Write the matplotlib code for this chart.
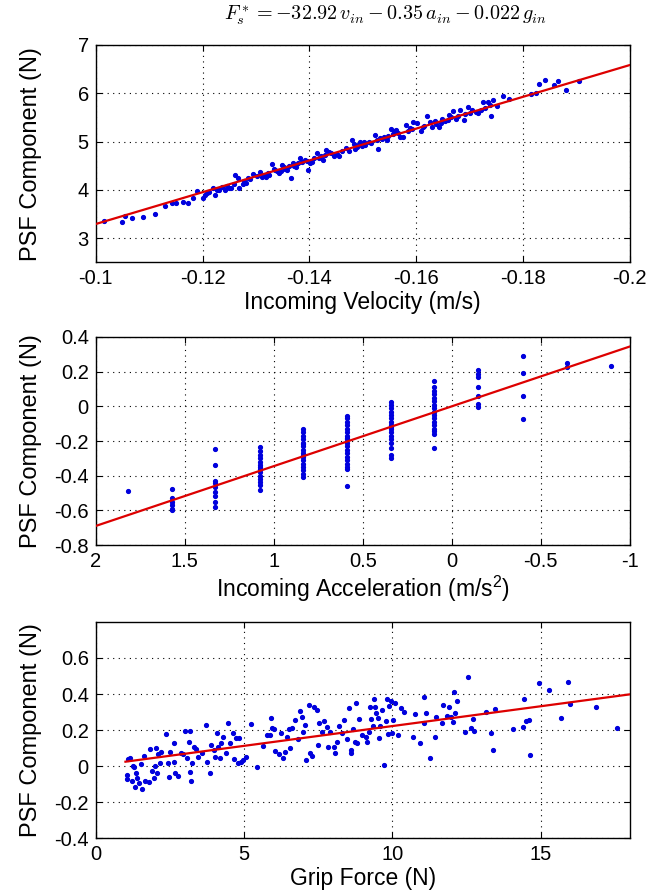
import numpy as np
import matplotlib
matplotlib.use("Agg")
import matplotlib.pyplot as plt

plt.rcParams['font.family'] = ['Liberation Sans', 'DejaVu Sans']
plt.rcParams['mathtext.fontset'] = 'cm'
plt.rcParams['axes.unicode_minus'] = False

# --- panel 1: incoming velocity vs PSF component ---
vel = [-0.1015, -0.105, -0.1055, -0.1067, -0.1089, -0.111, -0.113, -0.1142, -0.115, -0.1163,
       -0.1173, -0.1182, -0.1189, -0.12, -0.1205, -0.1212, -0.1219, -0.1223, -0.123, -0.1237,
       -0.1242, -0.1249, -0.1254, -0.126, -0.1267, -0.1269, -0.1275, -0.1282, -0.1285, -0.1295,
       -0.1302, -0.1307, -0.1312, -0.1319, -0.1325, -0.133, -0.1334, -0.1339, -0.1343, -0.1349,
       -0.1354, -0.1359, -0.1365, -0.1369, -0.1375, -0.1382, -0.1387, -0.1392, -0.1397, -0.1402,
       -0.1409, -0.1415, -0.1421, -0.1426, -0.1432, -0.1437, -0.1447, -0.1455, -0.1462, -0.1474,
       -0.1479, -0.1483, -0.1489, -0.1495, -0.1499, -0.1505, -0.1515, -0.1522, -0.1529, -0.1532,
       -0.1539, -0.1545, -0.1552, -0.1559, -0.1563, -0.1569, -0.1575, -0.1581, -0.1589, -0.1595,
       -0.1602, -0.1609, -0.1615, -0.1621, -0.1629, -0.1635, -0.1642, -0.1649, -0.1654, -0.1662,
       -0.1669, -0.1675, -0.1682, -0.1689, -0.1697, -0.1705, -0.1715, -0.1722, -0.1725, -0.1734,
       -0.1741, -0.1743, -0.1752, -0.1762, -0.1774, -0.1815, -0.1825, -0.183, -0.1841, -0.1859,
       -0.1865, -0.188, -0.1905,
       -0.1245, -0.1278, -0.1316, -0.1336, -0.1352, -0.1372, -0.1395, -0.1418, -0.1441, -0.1468,
       -0.1491, -0.1512, -0.1536, -0.1556, -0.1585, -0.1612, -0.1638, -0.1659, -0.1679, -0.1701,
       -0.1712, -0.1729,
       -0.1208, -0.1227, -0.1258, -0.1289, -0.1322, -0.1346, -0.1362, -0.1379, -0.1405, -0.1429,
       -0.1452, -0.1486, -0.1502, -0.1526, -0.1548, -0.1566, -0.1592, -0.1626, -0.1646, -0.1666,
       -0.1692, -0.1738]
psf_v = [3.36, 3.33, 3.45, 3.42, 3.43, 3.49, 3.67, 3.73, 3.73, 3.75,
         3.72, 3.84, 3.97, 3.84, 3.89, 3.96, 4.03, 3.90, 3.99, 4.06,
         3.99, 4.03, 4.03, 4.31, 4.24, 4.03, 4.13, 4.15, 4.25, 4.32,
         4.29, 4.36, 4.26, 4.26, 4.31, 4.53, 4.44, 4.38, 4.34, 4.51,
         4.44, 4.41, 4.24, 4.55, 4.48, 4.65, 4.58, 4.62, 4.41, 4.55,
         4.65, 4.76, 4.71, 4.62, 4.83, 4.79, 4.69, 4.69, 4.81, 4.81,
         5.03, 4.94, 4.88, 5.00, 4.90, 4.93, 4.97, 5.14, 4.85, 5.07,
         5.10, 5.03, 5.26, 5.21, 5.24, 5.10, 5.10, 5.35, 5.29, 5.40,
         5.38, 5.21, 5.33, 5.52, 5.31, 5.43, 5.31, 5.47, 5.42, 5.54,
         5.63, 5.47, 5.66, 5.45, 5.71, 5.66, 5.59, 5.66, 5.82, 5.82,
         5.52, 5.87, 5.73, 5.95, 5.89, 5.99, 6.01, 6.19, 6.28, 6.18,
         6.26, 6.06, 6.26,
         4.07, 4.18, 4.31, 4.42, 4.47, 4.50, 4.60, 4.66, 4.77, 4.86,
         4.92, 5.00, 5.05, 5.15, 5.22, 5.30, 5.37, 5.44, 5.52, 5.59,
         5.62, 5.70,
         3.94, 4.00, 4.12, 4.22, 4.34, 4.40, 4.49, 4.56, 4.58, 4.73,
         4.75, 4.84, 4.98, 5.03, 5.12, 5.18, 5.25, 5.40, 5.39, 5.50,
         5.58, 5.76]

# --- panel 2: incoming acceleration vs PSF component ---
acc = ([1.82] + [1.574] * 6 + [1.328] * 9 + [1.08] * 14 + [0.836] * 17 + [0.588] * 19
       + [0.342] * 17 + [0.098] * 17 + [-0.15] * 7 + [-0.40] * 4 + [-0.646] * 2 + [-0.892])
psf_a = ([-0.49]
         + [-0.477, -0.53, -0.55, -0.57, -0.59, -0.60]
         + [-0.244, -0.34, -0.43, -0.445, -0.464, -0.496, -0.52, -0.55, -0.58]
         + [-0.237, -0.26, -0.28, -0.30, -0.32, -0.34, -0.35, -0.36, -0.38, -0.40, -0.42,
            -0.435, -0.454, -0.48]
         + [-0.13, -0.15, -0.17, -0.19, -0.21, -0.22, -0.23, -0.25, -0.27, -0.28, -0.29,
            -0.31, -0.33, -0.35, -0.37, -0.39, -0.41]
         + [-0.054, -0.07, -0.09, -0.11, -0.13, -0.15, -0.17, -0.18, -0.19, -0.21, -0.23,
            -0.25, -0.27, -0.29, -0.31, -0.33, -0.35, -0.36, -0.46]
         + [0.027, 0.01, -0.01, -0.03, -0.05, -0.07, -0.09, -0.11, -0.12, -0.13, -0.15,
            -0.17, -0.19, -0.21, -0.24, -0.28, -0.30]
         + [0.145, 0.11, 0.09, 0.07, 0.05, 0.03, 0.01, -0.01, -0.03, -0.05, -0.07, -0.09,
            -0.11, -0.13, -0.14, -0.16, -0.24]
         + [0.208, 0.185, 0.17, 0.109, 0.061, 0.013, -0.002]
         + [0.29, 0.195, 0.061, -0.073]
         + [0.248, 0.227]
         + [0.233])

# --- panel 3: grip force vs PSF component ---
grip = [1.06, 1.06, 1.09, 1.15, 1.21, 1.24, 1.30, 1.33, 1.36, 1.39, 1.45, 1.51, 1.57, 1.62, 1.66,
        1.81, 1.84, 1.90, 1.96, 1.99, 2.02, 2.08, 2.11, 2.17, 2.20, 2.38, 2.44, 2.46, 2.50, 2.62,
        2.65, 2.68, 2.77, 2.86, 2.94, 3.01, 3.06, 3.13, 3.16, 3.18, 3.22, 3.25, 3.30, 3.37, 3.46,
        3.58, 3.70, 3.76, 3.85, 3.88, 3.97, 4.02, 4.09, 4.12, 4.18, 4.21, 4.30, 4.38, 4.45, 4.54,
        4.62, 4.66, 4.72, 4.78, 4.84, 4.90, 4.96, 5.08, 5.22, 5.44, 5.65, 5.76, 5.86, 5.92, 5.94,
        6.01, 6.04, 6.16, 6.25, 6.30, 6.37, 6.46, 6.52, 6.54, 6.61, 6.73, 6.82, 6.88, 6.94, 6.97,
        7.06, 7.09, 7.18, 7.21, 7.30, 7.36, 7.45, 7.48, 7.54, 7.62, 7.69, 7.78, 7.82, 7.90, 8.02,
        8.08, 8.14, 8.20, 8.30, 8.38, 8.46, 8.54, 8.59, 8.62, 8.68, 8.74, 8.78, 8.82, 8.86, 8.98,
        9.10, 9.14, 9.20, 9.24, 9.28, 9.34, 9.37, 9.40, 9.46, 9.50, 9.55, 9.58, 9.64, 9.72, 9.78,
        9.82, 9.86, 9.88, 9.94, 9.98, 10.02, 10.08, 10.19, 10.30, 10.38, 10.68, 10.76, 10.94,
        11.06, 11.08, 11.14, 11.28, 11.42, 11.46, 11.66, 11.70, 11.84, 11.90, 11.98, 12.04, 12.06,
        12.10, 12.16, 12.44, 12.55, 12.66, 12.70, 12.76, 13.16, 13.32, 13.38, 13.46, 14.06, 14.41,
        14.42, 14.50, 14.62, 14.65, 14.95, 15.28, 15.68, 15.93, 15.98, 16.87, 17.56]
psf_g = [-0.05, -0.072, 0.039, 0.046, -0.081, 0.0, -0.004, -0.115, -0.037, -0.069, -0.093, 0.011,
         -0.128, 0.056, -0.083, -0.089, 0.093, -0.028, -0.069, 0.0, 0.102, -0.041, 0.067, 0.019,
         0.08, 0.176, 0.015, -0.059, 0.08, 0.024, 0.126, -0.037, -0.056, 0.074, 0.067, 0.196,
         0.043, 0.135, -0.031, 0.196, -0.083, 0.019, 0.107, 0.093, 0.048, 0.07, 0.228, 0.024,
         -0.041, 0.117, 0.089, 0.052, 0.181, 0.107, 0.043, 0.13, 0.163, 0.07, 0.237, 0.126,
         0.181, 0.037, 0.154, 0.015, 0.154, 0.024, 0.033, 0.048, 0.231, -0.004, 0.111, 0.172,
         0.172, 0.265, 0.209, 0.204, 0.085, 0.067, 0.181, 0.043, 0.08, 0.163, 0.204, 0.098,
         0.209, 0.256, 0.148, 0.306, 0.274, 0.191, 0.228, 0.033, 0.339, 0.074, 0.057, 0.326,
         0.311, 0.117, 0.241, 0.191, 0.25, 0.219, 0.104, 0.191, 0.104, 0.074, 0.135, 0.222,
         0.181, 0.256, 0.148, 0.324, 0.089, 0.07, 0.204, 0.135, 0.352, 0.126, 0.259, 0.172,
         0.163, 0.135, 0.191, 0.33, 0.259, 0.222, 0.37, 0.33, 0.296, 0.265, 0.154, 0.222,
         0.311, 0.006, 0.252, 0.37, 0.178, 0.333, 0.363, 0.185, 0.256, 0.352, 0.172, 0.32,
         0.302, 0.159, 0.289, 0.126, 0.381, 0.237, 0.296, 0.046, 0.159, 0.27, 0.237, 0.339,
         0.278, 0.33, 0.274, 0.246, 0.409, 0.293, 0.363, 0.187, 0.496, 0.209, 0.261, 0.196,
         0.302, 0.185, 0.089, 0.315, 0.206, 0.215, 0.37, 0.25, 0.256, 0.061, 0.463, 0.422,
         0.269, 0.465, 0.343, 0.326, 0.209]

# linear fit lines (slope, intercept) and x spans
fit_v = [-32.92, 0.0]
fit_a = [-0.345, 0.0]
fit_g = [0.022, 0.002]
span_v = [-0.1, -0.2]
span_a = [2, -1]
span_g = [1.0, 18]

fig = plt.figure(figsize=(6.56, 8.92), dpi=100)
ax1 = fig.add_axes([0.146, 0.706, 0.814, 0.2436])
ax2 = fig.add_axes([0.146, 0.389, 0.814, 0.2332])
ax3 = fig.add_axes([0.146, 0.0605, 0.814, 0.2422])

panels = [
    (ax1, vel, psf_v, fit_v, span_v, 'Incoming Velocity (m/s)',
     (-0.1, -0.2), (2.5, 7), [-0.1, -0.12, -0.14, -0.16, -0.18, -0.2], [3, 4, 5, 6, 7]),
    (ax2, acc, psf_a, fit_a, span_a, 'Incoming Acceleration (m/s$\\mathregular{^2}$)',
     (2, -1), (-0.8, 0.4), [2, 1.5, 1, 0.5, 0, -0.5, -1], [-0.8, -0.6, -0.4, -0.2, 0, 0.2, 0.4]),
    (ax3, grip, psf_g, fit_g, span_g, 'Grip Force (N)',
     (0, 18), (-0.4, 0.8), [0, 5, 10, 15], [-0.4, -0.2, 0, 0.2, 0.4, 0.6]),
]

for ax, xs, ys, fit, span, xlab, xl, yl, xt, yt in panels:
    ax.plot(xs, ys, '.', color='#0000dd', markersize=5.5, zorder=3)
    lx = np.array(span)
    ax.plot(lx, np.polyval(fit, lx), color='#dd0000', linewidth=1.6, zorder=4)
    ax.set_xlim(*xl)
    ax.set_ylim(*yl)
    ax.set_xticks(xt)
    ax.set_xticklabels(['%g' % t for t in xt])
    ax.set_yticks(yt)
    ax.set_yticklabels(['%g' % t for t in yt])
    ax.grid(True, linestyle=(0, (1, 4)), color='black', linewidth=0.8)
    ax.tick_params(direction='in', top=True, right=True, labelsize=14.5, length=4, pad=5)
    ax.set_xlabel(xlab, fontsize=16.5, labelpad=2)
    ax.set_ylabel('PSF Component (N)', fontsize=17)
    ax.yaxis.set_label_coords(-0.101, 0.5)
    for s in ax.spines.values():
        s.set_linewidth(1.0)

fig.text(0.587, 0.983, r'$F_s^* = -32.92\,v_{in} - 0.35\,a_{in} - 0.022\,g_{in}$',
         ha='center', va='center', fontsize=14.5)

fig.savefig('out.png', dpi=100)
